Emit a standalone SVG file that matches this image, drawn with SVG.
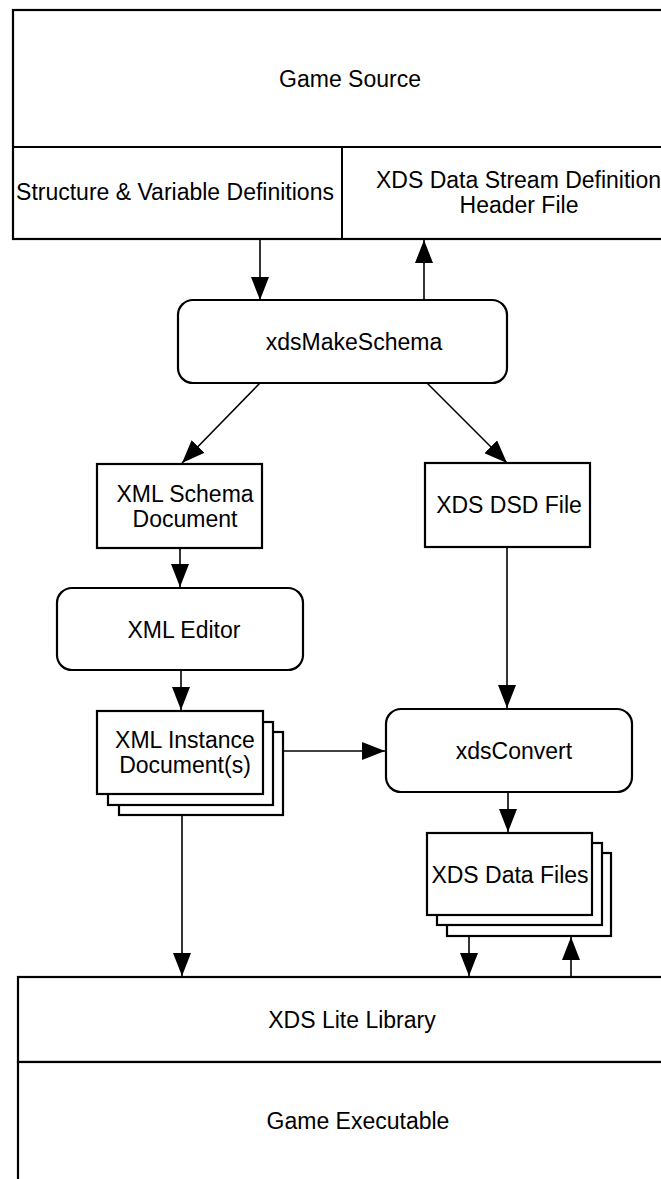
<svg xmlns="http://www.w3.org/2000/svg" width="661" height="1179" viewBox="0 0 661 1179">
<style>
.box{fill:#fff;stroke:#000;stroke-width:2.2}
.ln{fill:none;stroke:#000;stroke-width:1.6}
.t{font-family:"Liberation Sans",Arial,Helvetica,sans-serif;font-size:23px;fill:#000}
.c{text-anchor:middle}
</style>
<defs>
<marker id="ah" markerUnits="userSpaceOnUse" markerWidth="23" markerHeight="18" viewBox="0 0 23 18" refX="23" refY="9" orient="auto">
<path d="M0,0 L23,9 L0,18 Z" fill="#000"/>
</marker>
</defs>
<rect width="661" height="1179" fill="#fff"/>

<g id="game-source">
<rect class="box" x="13" y="10" width="660" height="229"/>
<line x1="13" y1="147" x2="673" y2="147" stroke="#000" stroke-width="2.2"/>
<line x1="342" y1="147" x2="342" y2="239" stroke="#000" stroke-width="2"/>
<text class="t c" x="350" y="87">Game Source</text>
</g>
<g id="struct-defs">
<text class="t c" x="175" y="200">Structure &amp; Variable Definitions</text>
</g>
<g id="xds-header">
<text class="t" x="376" y="188">XDS Data Stream Definition</text>
<text class="t c" x="519" y="213">Header File</text>
</g>

<g id="xdsMakeSchema">
<rect class="box" x="178" y="300" width="329" height="83" rx="15"/>
<text class="t c" x="354" y="350">xdsMakeSchema</text>
</g>

<g id="xml-schema">
<rect class="box" x="97" y="464" width="165" height="84"/>
<text class="t c" x="185" y="502">XML Schema</text>
<text class="t c" x="185" y="527">Document</text>
</g>

<g id="xds-dsd">
<rect class="box" x="425" y="463" width="165" height="84"/>
<text class="t c" x="509" y="513">XDS DSD File</text>
</g>

<g id="xml-editor">
<rect class="box" x="57" y="588" width="246" height="82" rx="15"/>
<text class="t c" x="184" y="638">XML Editor</text>
</g>

<g id="xml-instance">
<rect class="box" x="119" y="732" width="164" height="83"/>
<rect class="box" x="108" y="722" width="165" height="83"/>
<rect class="box" x="97" y="711" width="166" height="83"/>
<text class="t c" x="185" y="748">XML Instance</text>
<text class="t c" x="185" y="773">Document(s)</text>
</g>

<g id="xdsConvert">
<rect class="box" x="386" y="709" width="246" height="83" rx="15"/>
<text class="t c" x="514" y="759">xdsConvert</text>
</g>

<g id="xds-data-files">
<rect class="box" x="447" y="853" width="164" height="83"/>
<rect class="box" x="437" y="843" width="165" height="82"/>
<rect class="box" x="427" y="833" width="165" height="82"/>
<text class="t c" x="510" y="883">XDS Data Files</text>
</g>

<g id="xds-lite-library">
<rect class="box" x="18" y="977" width="660" height="85"/>
<text class="t c" x="352" y="1028">XDS Lite Library</text>
</g>
<g id="game-executable">
<rect class="box" x="18" y="1062" width="660" height="140"/>
<text class="t c" x="358" y="1129">Game Executable</text>
</g>

<g id="connectors">
<line class="ln" x1="260" y1="239" x2="260" y2="300" marker-end="url(#ah)"/>
<line class="ln" x1="424" y1="300" x2="424" y2="240" marker-end="url(#ah)"/>
<line class="ln" x1="260" y1="383" x2="182" y2="463" marker-end="url(#ah)"/>
<line class="ln" x1="427" y1="383" x2="507" y2="463" marker-end="url(#ah)"/>
<line class="ln" x1="180" y1="548" x2="180" y2="587" marker-end="url(#ah)"/>
<line class="ln" x1="181" y1="670" x2="181" y2="710" marker-end="url(#ah)"/>
<line class="ln" x1="283" y1="751" x2="385" y2="751" marker-end="url(#ah)"/>
<line class="ln" x1="507" y1="547" x2="507" y2="708" marker-end="url(#ah)"/>
<line class="ln" x1="508" y1="792" x2="508" y2="832" marker-end="url(#ah)"/>
<line class="ln" x1="182" y1="815" x2="182" y2="976" marker-end="url(#ah)"/>
<line class="ln" x1="469" y1="936" x2="469" y2="976" marker-end="url(#ah)"/>
<line class="ln" x1="571" y1="977" x2="571" y2="937" marker-end="url(#ah)"/>
</g>
</svg>
